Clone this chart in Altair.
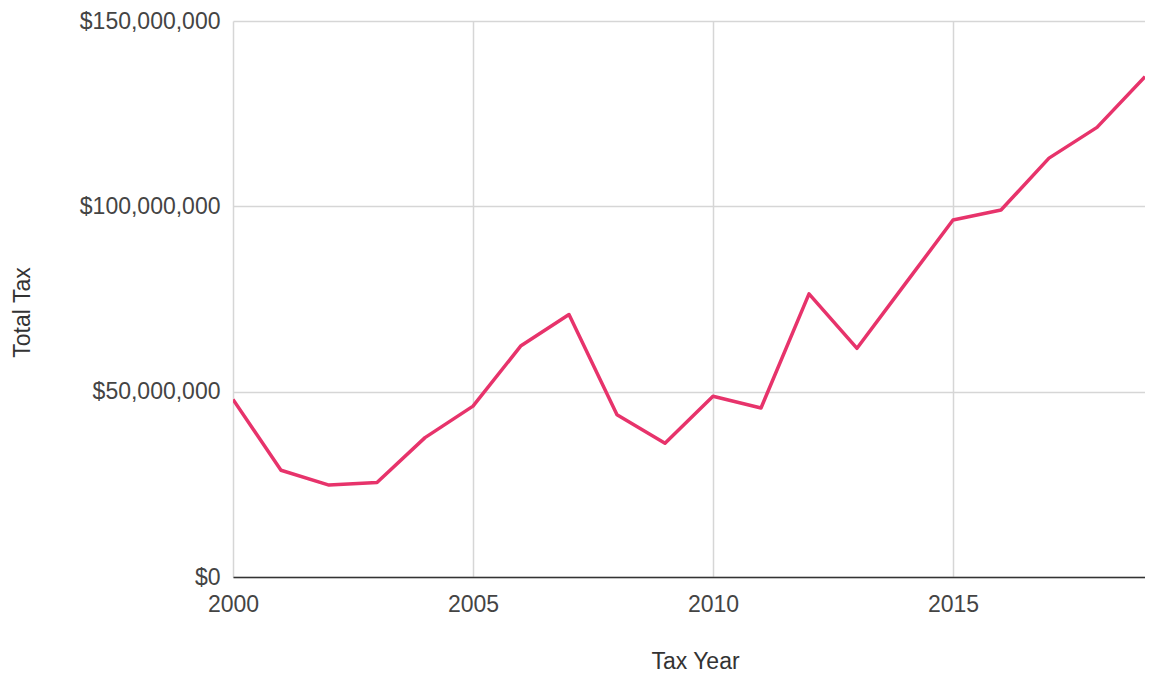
import altair as alt
import pandas as pd

years = list(range(2000, 2020))
total_tax = [47.9e6, 28.8e6, 24.8e6, 25.5e6, 37.6e6, 46.1e6, 62.4e6, 70.8e6,
             43.8e6, 36.1e6, 48.75e6, 45.6e6, 76.4e6, 61.7e6, 79.0e6, 96.3e6,
             99.0e6, 113.0e6, 121.3e6, 135.0e6]
x_ticks = [2000, 2005, 2010, 2015]
y_ticks = [0, 50e6, 100e6, 150e6]

df = pd.DataFrame({"Tax Year": years, "Total Tax": total_tax})

FONT = "Liberation Sans"

chart = alt.Chart(df).mark_line(
    color="#E7336B", strokeWidth=3.5, strokeJoin="round", clip=True
).encode(
    x=alt.X(
        "Tax Year:Q",
        scale=alt.Scale(domain=[2000, 2019], nice=False, zero=False),
        axis=alt.Axis(
            values=x_ticks, format="d", grid=True, ticks=False, labelFlush=False,
            domain=True, domainColor="#333333", domainWidth=1.5,
            gridColor="#d6d6d6", gridWidth=1.5,
            labelPadding=16, labelFontSize=23, labelColor="#444444", labelFont=FONT,
            title="Tax Year", titleFontSize=23, titleColor="#333333", titleFont=FONT,
            titleFontWeight="normal", titleX=462, titleY=84, titleBaseline="middle",
            titleAlign="center",
        ),
    ),
    y=alt.Y(
        "Total Tax:Q",
        scale=alt.Scale(domain=[0, 150e6], nice=False),
        axis=alt.Axis(
            values=y_ticks, format="$,.0f", grid=True, ticks=False, domain=False,
            labelFlush=False,
            gridColor="#d6d6d6", gridWidth=1.5,
            labelPadding=13, labelFontSize=23, labelColor="#444444", labelFont=FONT,
            title="Total Tax", titleFontSize=23, titleColor="#333333", titleFont=FONT,
            titleFontWeight="normal", titleX=-211, titleY=291, titleBaseline="middle",
            titleAlign="center", titleAngle=-90,
        ),
    ),
).properties(
    width=912, height=556,
    autosize=alt.AutoSizeParams(type="none"),
    padding={"top": 13, "left": 225, "right": 0, "bottom": 96},
).configure_view(stroke=None)

chart.save("out.html", embed_options={"renderer": "svg", "actions": False})
